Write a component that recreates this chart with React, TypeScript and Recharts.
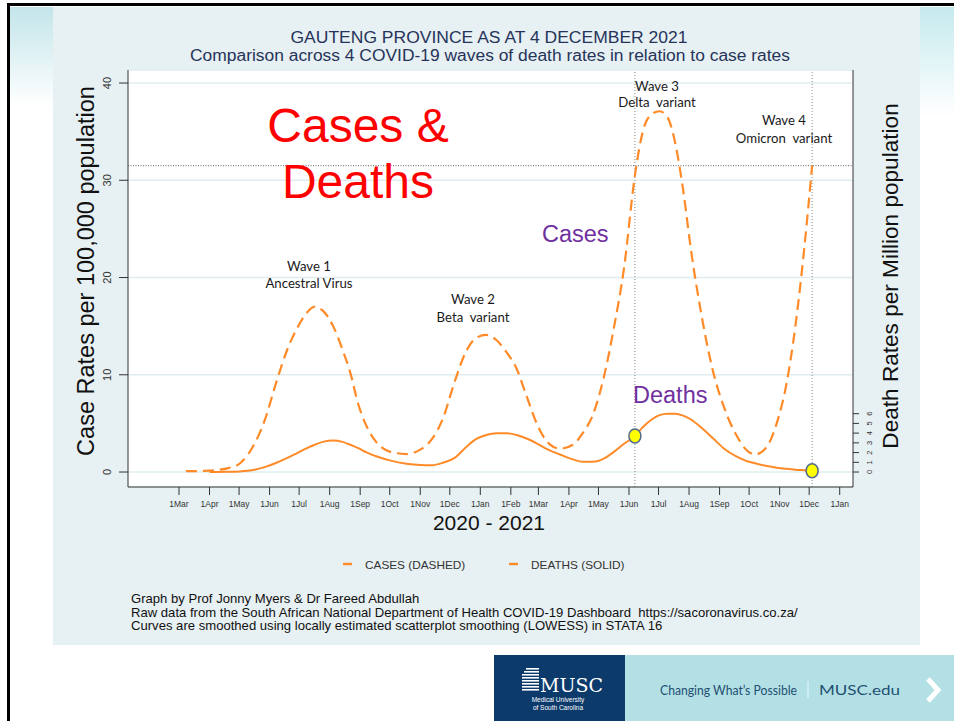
import React from "react";
import {
  LineChart,
  Line,
  XAxis,
  YAxis,
  CartesianGrid,
  ReferenceLine,
  ReferenceDot,
} from "recharts";

// days since 1 Mar 2020
const days = [
  7, 20, 31, 38, 50, 62, 75, 87, 99, 110, 120, 130, 138, 146, 157, 166, 174, 182, 191, 201,
  214, 231, 245, 257, 268, 280, 292, 302, 312, 322, 332, 343, 353, 365, 376, 387, 400, 410,
  420, 432, 442, 452, 463, 471, 480, 488, 496, 504, 512, 520, 530, 542, 553, 566, 576, 585,
  597, 607, 617, 626, 635, 643,
];

// case rates per 100,000 (LOWESS smoothed)
const cases = [
  0.1, 0.1, 0.15, 0.2, 0.4, 0.9, 2.6, 5.3, 9.3, 12.6, 14.8, 16.4, 17.0, 16.6, 14.9, 12.6, 10.2,
  7.0, 4.6, 3.0, 2.1, 1.85, 2.3, 3.4, 5.5, 9.3, 12.5, 13.8, 14.1, 13.6, 12.4, 10.6, 7.8, 4.6,
  2.9, 2.4, 2.8, 4.0, 5.8, 10.0, 15.0, 21.0, 30.5, 35.0, 36.8, 37.1, 36.5, 33.8, 29.0, 22.8,
  16.5, 10.5, 6.8, 3.8, 2.3, 1.8, 2.6, 5.0, 9.1, 15.0, 23.0, 31.5,
];

// death rates per million (LOWESS smoothed)
const deaths = [
  null, null, 0.0, 0.01, 0.02, 0.06, 0.2, 0.5, 0.95, 1.45, 1.95, 2.45, 2.8, 3.1, 3.25, 3.1, 2.8,
  2.45, 2.0, 1.6, 1.2, 0.85, 0.72, 0.7, 0.95, 1.45, 2.6, 3.4, 3.8, 4.0, 4.0, 3.8, 3.45, 2.85,
  2.25, 1.8, 1.3, 1.05, 1.05, 1.4, 2.1, 2.9, 3.7, 4.6, 5.4, 5.85, 6.0, 6.0, 5.8, 5.4, 4.6, 3.5,
  2.45, 1.6, 1.15, 0.9, 0.62, 0.45, 0.33, 0.24, 0.18, 0.13,
];

const monthTicks = [
  0, 31, 61, 92, 122, 153, 184, 214, 245, 275, 306, 337, 365, 396, 426, 457, 487, 518, 549, 579,
  610, 640, 671,
];
const monthLabels = [
  "1Mar", "1Apr", "1May", "1Jun", "1Jul", "1Aug", "1Sep", "1Oct", "1Nov", "1Dec", "1Jan",
  "1Feb", "1Mar", "1Apr", "1May", "1Jun", "1Jul", "1Aug", "1Sep", "1Oct", "1Nov", "1Dec", "1Jan",
];
const caseTicks = [0, 10, 20, 30, 40];
const deathTicks = [0, 1, 2, 3, 4, 5, 6];

const markerDays = [463, 643]; // start of wave 3, 4 Dec 2021
const caseThreshold = 31.5;

const data = days.map((d, i) => ({ day: d, cases: cases[i], deaths: deaths[i] }));

const ORANGE = "#ff8a28";
const SANS = "'Liberation Sans', Arial, Helvetica, sans-serif";
const CALIBRI = "Lato, 'Open Sans', sans-serif";
const Y_DOMAIN: [number, number] = [-1.54, 41.34];
const NB = "\u00a0";

const XTick = (props: any) => {
  const { x, y, payload } = props;
  const label = monthLabels[monthTicks.indexOf(payload.value)];
  return (
    <text x={x} y={y + 10} textAnchor="middle" fontSize={8.5} fill="#333" fontFamily={SANS}>
      {label}
    </text>
  );
};

const LeftTick = (props: any) => {
  const { x, y, payload } = props;
  return (
    <text
      transform={`translate(${x - 6},${y}) rotate(-90)`}
      textAnchor="middle"
      fontSize={11}
      fill="#333"
      fontFamily={SANS}
    >
      {payload.value}
    </text>
  );
};

const RightTick = (props: any) => {
  const { x, y, payload } = props;
  return (
    <text
      transform={`translate(${x + 11},${y}) rotate(-90)`}
      textAnchor="middle"
      fontSize={7.5}
      fill="#333"
      fontFamily={SANS}
    >
      {payload.value}
    </text>
  );
};

const Marker = (props: any) => (
  <ellipse cx={props.cx} cy={props.cy} rx={6} ry={7} fill="#ffff00" stroke="#51698c" strokeWidth={1.5} />
);

export default function App() {
  return (
    <div style={{ position: "absolute", left: 0, top: 0, width: 954, height: 721, background: "#fff", overflow: "hidden" }}>
      {/* slide decoration */}
      <div style={{ position: "absolute", left: 10, top: 7, width: 43, height: 100, background: "linear-gradient(#c3e5ea, #ffffff)" }} />
      <div style={{ position: "absolute", left: 920, top: 7, width: 34, height: 110, background: "linear-gradient(#c6eaee, #ffffff)" }} />
      <div style={{ position: "absolute", left: 53, top: 7, width: 867, height: 638, background: "#e7f0f2" }} />
      <div style={{ position: "absolute", left: 8, top: 3, width: 946, height: 3, background: "#000" }} />
      <div style={{ position: "absolute", left: 7, top: 3, width: 3, height: 718, background: "#000" }} />
      <div style={{ position: "absolute", left: 494, top: 655, width: 131, height: 66, background: "#0c3a6b" }} />
      <div style={{ position: "absolute", left: 625, top: 655, width: 329, height: 66, background: "#b3e0e5" }} />

      <div style={{ position: "absolute", left: 0, top: 0 }}>
        <LineChart width={954} height={721} data={data} margin={{ top: 70, right: 61, bottom: 204, left: 88 }}>
          <CartesianGrid vertical={false} stroke="#e0ecef" strokeWidth={1.5} fill="#ffffff" />
          <XAxis
            type="number"
            dataKey="day"
            domain={[-51.8, 684.5]}
            allowDataOverflow
            ticks={monthTicks}
            interval={0}
            tick={<XTick />}
            tickSize={8}
            height={30}
            stroke="#333"
          />
          <YAxis
            domain={Y_DOMAIN}
            allowDataOverflow
            ticks={caseTicks}
            interval={0}
            tick={<LeftTick />}
            tickSize={9}
            width={40}
            stroke="#333"
          />
          <YAxis
            yAxisId="r"
            orientation="right"
            domain={Y_DOMAIN}
            allowDataOverflow
            ticks={deathTicks}
            interval={0}
            tick={<RightTick />}
            tickSize={6}
            width={40}
            stroke="#333"
          />
          <ReferenceLine y={caseThreshold} stroke="#666" strokeDasharray="1 1.5" />
          {markerDays.map((d) => (
            <ReferenceLine key={"v" + d} x={d} stroke="#888" strokeDasharray="1 2" />
          ))}
          <Line
            dataKey="cases"
            type="monotone"
            stroke={ORANGE}
            strokeWidth={2.2}
            strokeDasharray="11 6"
            dot={false}
            isAnimationActive={false}
          />
          <Line
            yAxisId="r"
            dataKey="deaths"
            type="monotone"
            stroke={ORANGE}
            strokeWidth={2}
            dot={false}
            isAnimationActive={false}
          />
          {markerDays.map((d) => (
            <ReferenceDot
              key={"m" + d}
              yAxisId="r"
              x={d}
              y={deaths[days.indexOf(d)] as number}
              shape={<Marker />}
            />
          ))}
        </LineChart>
      </div>

      <svg width={954} height={721} style={{ position: "absolute", left: 0, top: 0, pointerEvents: "none" }}>
        <g fontFamily={SANS}>
          <text x={489} y={43} textAnchor="middle" fontSize={16} fill="#26345a" textLength={397} lengthAdjust="spacingAndGlyphs">
            GAUTENG PROVINCE AS AT 4 DECEMBER 2021
          </text>
          <text x={490} y={61} textAnchor="middle" fontSize={16} fill="#26345a" textLength={600} lengthAdjust="spacingAndGlyphs">
            Comparison across 4 COVID-19 waves of death rates in relation to case rates
          </text>

          <text transform="translate(94,271) rotate(-90)" textAnchor="middle" fontSize={23.5} fill="#111">
            Case Rates per 100,000 population
          </text>
          <text transform="translate(898,276) rotate(-90)" textAnchor="middle" fontSize={22.6} fill="#111">
            Death Rates per Million population
          </text>
          <text x={489} y={530} textAnchor="middle" fontSize={21} fill="#111">
            2020 - 2021
          </text>

          <text x={358} y={142} textAnchor="middle" fontSize={48} fill="#ff0000">Cases &amp;</text>
          <text x={358} y={198} textAnchor="middle" fontSize={48} fill="#ff0000">Deaths</text>
          <text x={542} y={242} fontSize={23.5} fill="#7030a0">Cases</text>
          <text x={633} y={403} fontSize={23.5} fill="#7030a0">Deaths</text>

          <line x1={343} y1={564} x2={352} y2={564} stroke={ORANGE} strokeWidth={2.4} />
          <text x={365} y={569} fontSize={11.8} fill="#333">CASES (DASHED)</text>
          <line x1={509} y1={564} x2={518} y2={564} stroke={ORANGE} strokeWidth={2.4} />
          <text x={531} y={569} fontSize={11.8} fill="#333">DEATHS (SOLID)</text>

          <text x={131} y={603} fontSize={13.1} fill="#111">Graph by Prof Jonny Myers &amp; Dr Fareed Abdullah</text>
          <text x={131} y={616.5} fontSize={13.1} fill="#111">
            {`Raw data from the South African National Department of Health COVID-19 Dashboard ${NB}https://sacoronavirus.co.za/`}
          </text>
          <text x={131} y={630} fontSize={13.1} fill="#111">
            Curves are smoothed using locally estimated scatterplot smoothing (LOWESS) in STATA 16
          </text>
        </g>

        <g fontFamily={CALIBRI} fontSize={13.2} fill="#1a1a1a" textAnchor="middle">
          <text x={309} y={271}>Wave 1</text>
          <text x={309} y={288}>Ancestral Virus</text>
          <text x={473} y={304}>Wave 2</text>
          <text x={473} y={322}>{`Beta ${NB}variant`}</text>
          <text x={657} y={91}>Wave 3</text>
          <text x={657} y={107}>{`Delta ${NB}variant`}</text>
          <text x={784} y={125}>Wave 4</text>
          <text x={784} y={143}>{`Omicron ${NB}variant`}</text>
        </g>

        {/* MUSC banner */}
        <g fill="#fff">
          {[0, 1, 2, 3, 4, 5, 6, 7].map((i) => (
            <rect key={i} x={522 + (i < 2 ? 4 - i * 2 : 0)} y={668 + i * 3} width={17 - (i < 2 ? 4 - i * 2 : 0)} height={1.6} />
          ))}
          <text x={540} y={692} fontSize={19} fontFamily="'DejaVu Serif', 'Liberation Serif', serif">MUSC</text>
          <text x={558} y={702} fontSize={6.5} textAnchor="middle" fontFamily={SANS}>Medical University</text>
          <text x={558} y={710} fontSize={6.5} textAnchor="middle" fontFamily={SANS}>of South Carolina</text>
        </g>
        <g fontFamily={CALIBRI} fontSize={14} fill="#1f4f72">
          <text x={660} y={695} textLength={137} lengthAdjust="spacingAndGlyphs">Changing What’s Possible</text>
          <text x={819} y={695} textLength={81} lengthAdjust="spacingAndGlyphs">MUSC.edu</text>
        </g>
        <line x1={808} y1={681} x2={808} y2={698} stroke="#e8f7f9" strokeWidth={1} />
        <polyline points="928,679 938,690 928,701" fill="none" stroke="#fff" strokeWidth={5} />
      </svg>
    </div>
  );
}
